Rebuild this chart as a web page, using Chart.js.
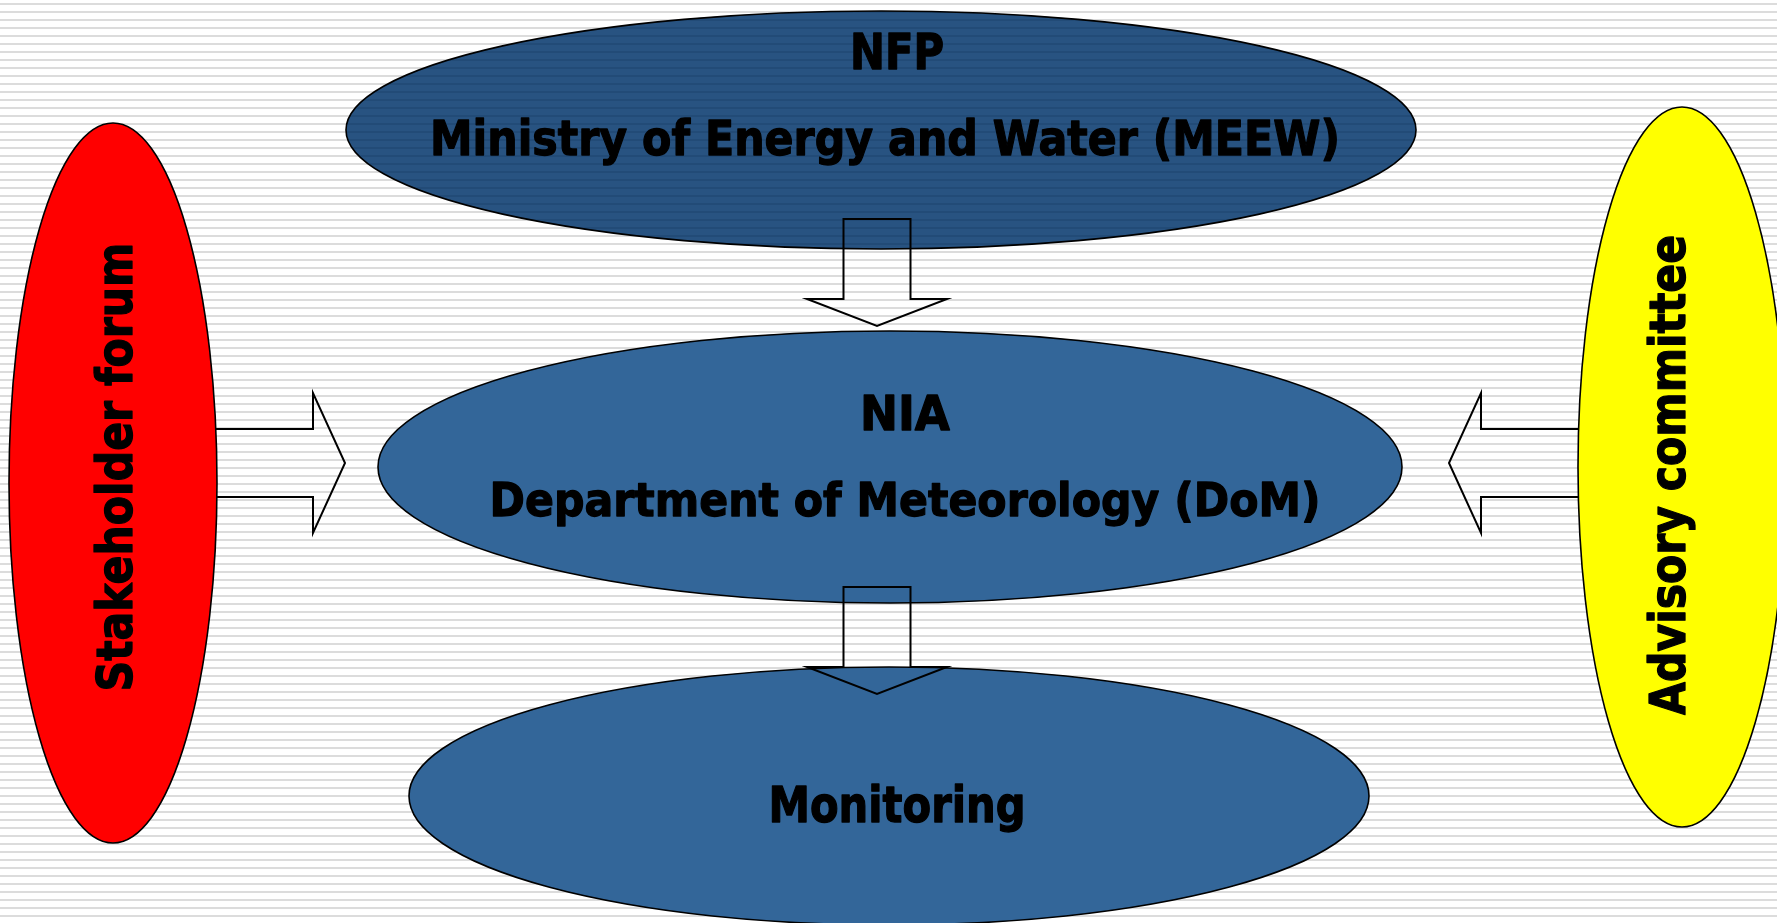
<!DOCTYPE html>
<html>
<head>
<meta charset="utf-8">
<title>NFP / NIA structure</title>
<script src="https://cdn.jsdelivr.net/npm/chart.js@4/dist/chart.umd.min.js"></script>
<style>
  html, body { margin: 0; padding: 0; overflow: hidden; background: #fff; }
  #wrap { width: 1777px; height: 923px; position: relative; }
</style>
</head>
<body>
<div id="wrap"><canvas id="diagram"></canvas></div>
<script>
// diagram units = page pixels (x: 0..1777, y: 0..923 top-down)
const nodeNames = ['MEEW', 'DoM', 'Monitoring', 'Stakeholder forum', 'Advisory committee'];
const nodeText = [
    ['NFP', 'Ministry of Energy and Water (MEEW)'],
    ['NIA', 'Department of Meteorology (DoM)'],
    ['Monitoring'],
    ['Stakeholder forum'],
    ['Advisory committee']
];
const nodeX = [881, 890, 889, 113, 1682];
const nodeY = [130, 467, 796, 483, 467];
const nodeRX = [535, 512, 480, 104, 104];
const nodeRY = [119, 136, 129, 360, 360];

// arrows: tail point -> tip point
const arrowTailX = [150, 1610, 877, 877];
const arrowTailY = [463, 463, 219, 587];
const arrowTipX = [345, 1449, 877, 877];
const arrowTipY = [463, 463, 326, 694];

const nodeFill = ['pattern', '#336699', '#336699', '#ff0000', '#ffff00'];

// text placement: [x, baseline, width, size, rotated]
const textLayout = [
    [[897, 69, 94, 49, false], [885, 155, 910, 48, false]],
    [[905, 430, 90, 48, false], [905, 516, 831, 47, false]],
    [[897, 822, 257, 50, false]],
    [[132, 467, 449, 50, true]],
    [[1685, 475, 480, 50, true]]
];

function stripePattern(ctx) {
    const c = document.createElement('canvas');
    c.width = 8; c.height = 8;
    const g = c.getContext('2d');
    g.fillStyle = '#285381';
    g.fillRect(0, 0, 8, 8);
    g.fillStyle = '#224b77';
    g.fillRect(0, 3, 8, 2);
    return ctx.createPattern(c, 'repeat');
}

const diagramPlugin = {
    id: 'diagram',
    beforeDraw(chart) {
        const ctx = chart.ctx;
        const w = chart.width, h = chart.height;
        ctx.save();
        ctx.fillStyle = '#ffffff';
        ctx.fillRect(0, 0, w, h);
        ctx.fillStyle = '#dcdcdc';
        for (let y = 3; y < h; y += 8) ctx.fillRect(0, y, w, 2);
        ctx.restore();
    },
    afterDatasetsDraw(chart) {
        const ctx = chart.ctx;
        const xs = chart.scales.x, ys = chart.scales.y;
        const px = v => xs.getPixelForValue(v);
        const py = v => ys.getPixelForValue(v);

        function arrow(i) {
            const x1 = arrowTailX[i], y1 = arrowTailY[i], x2 = arrowTipX[i], y2 = arrowTipY[i];
            const len = Math.hypot(x2 - x1, y2 - y1);
            const ux = (x2 - x1) / len, uy = (y2 - y1) / len;
            const nx = -uy, ny = ux;
            const vertical = Math.abs(uy) > 0.5;
            const shaft = vertical ? 33.5 : 34;
            const head = 70;
            const headLen = vertical ? 27 : 32;
            const bx = x2 - ux * headLen, by = y2 - uy * headLen;
            const pts = [
                [x1 + nx * shaft, y1 + ny * shaft],
                [bx + nx * shaft, by + ny * shaft],
                [bx + nx * head, by + ny * head],
                [x2, y2],
                [bx - nx * head, by - ny * head],
                [bx - nx * shaft, by - ny * shaft],
                [x1 - nx * shaft, y1 - ny * shaft]
            ];
            ctx.save();
            ctx.beginPath();
            pts.forEach((p, k) => k ? ctx.lineTo(px(p[0]), py(p[1])) : ctx.moveTo(px(p[0]), py(p[1])));
            if (vertical) ctx.closePath();
            ctx.lineWidth = 2;
            ctx.strokeStyle = '#000';
            ctx.lineJoin = 'miter';
            ctx.stroke();
            ctx.restore();
        }

        function ellipse(i) {
            const cx = px(nodeX[i]), cy = py(nodeY[i]);
            const rx = Math.abs(px(nodeX[i] + nodeRX[i]) - cx);
            const ry = Math.abs(py(nodeY[i] + nodeRY[i]) - cy);
            ctx.save();
            ctx.beginPath();
            ctx.ellipse(cx, cy, rx, ry, 0, 0, Math.PI * 2);
            ctx.fillStyle = nodeFill[i] === 'pattern' ? stripePattern(ctx) : nodeFill[i];
            ctx.fill();
            ctx.lineWidth = 1.6;
            ctx.strokeStyle = '#000';
            ctx.stroke();
            ctx.restore();
        }

        function label(i) {
            nodeText[i].forEach((t, k) => {
                const [x, base, width, size, rotated] = textLayout[i][k];
                ctx.save();
                ctx.font = 'bold ' + size + 'px "DejaVu Sans", Verdana, sans-serif';
                ctx.fillStyle = '#000';
                ctx.strokeStyle = '#000';
                ctx.lineWidth = 1.3;
                ctx.lineJoin = 'round';
                ctx.textAlign = 'center';
                ctx.textBaseline = 'alphabetic';
                const m = ctx.measureText(t).width;
                ctx.translate(px(x), py(base));
                if (rotated) ctx.rotate(-Math.PI / 2);
                ctx.scale(width / m, 1);
                ctx.fillText(t, 0, 0);
                ctx.strokeText(t, 0, 0);
                ctx.restore();
            });
        }

        // side arrows sit under the side ellipses
        arrow(0);
        arrow(1);
        [0, 1, 2, 3, 4].forEach(ellipse);
        arrow(2);
        arrow(3);
        [0, 1, 2, 3, 4].forEach(label);
    }
};

new Chart(document.getElementById('diagram'), {
    type: 'scatter',
    data: {
        datasets: [{
            label: 'nodes',
            data: nodeNames.map((n, i) => ({ x: nodeX[i], y: nodeY[i] })),
            pointRadius: 0,
            pointHoverRadius: 0
        }]
    },
    options: {
        responsive: true,
        maintainAspectRatio: false,
        animation: false,
        layout: { padding: 0 },
        plugins: {
            legend: { display: false },
            tooltip: { enabled: false }
        },
        scales: {
            x: { type: 'linear', min: 0, max: 1777, display: false },
            y: { type: 'linear', min: 0, max: 923, reverse: true, display: false }
        }
    },
    plugins: [diagramPlugin]
});
</script>
</body>
</html>
